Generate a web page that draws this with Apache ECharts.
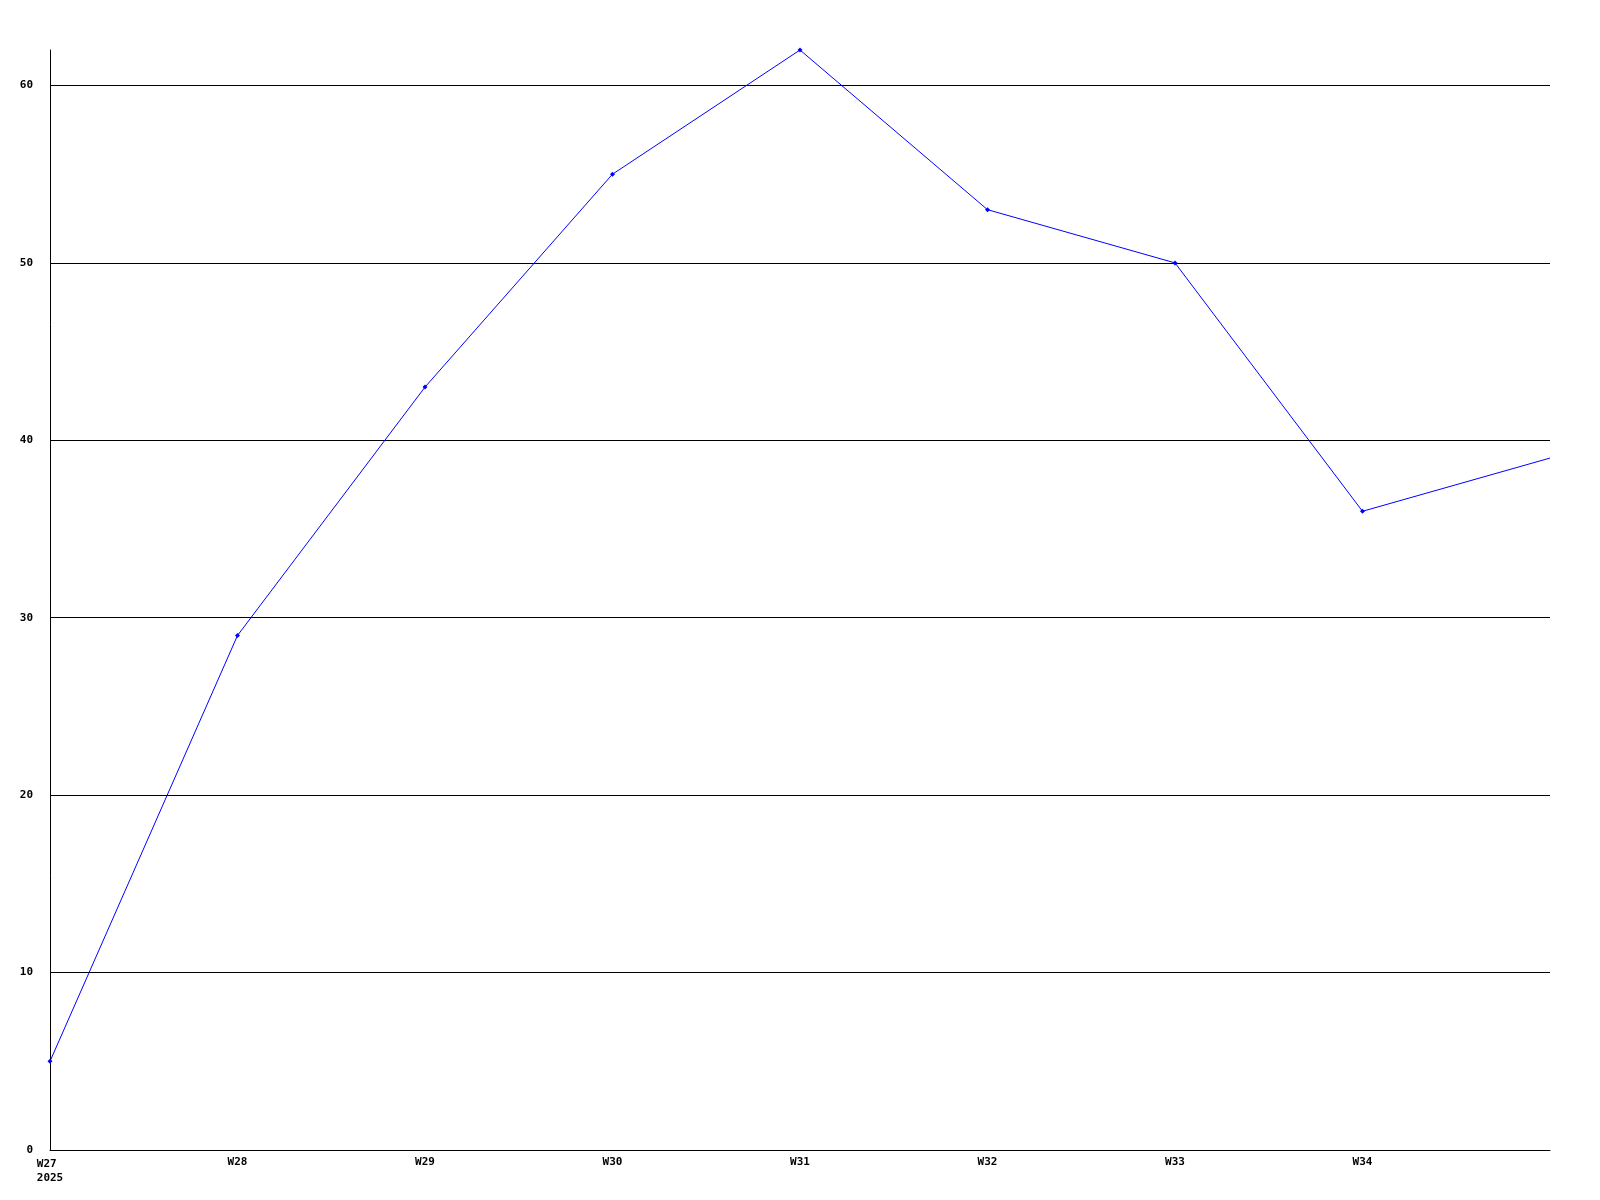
<!DOCTYPE html>
<html>
<head>
<meta charset="utf-8">
<script src="https://cdn.jsdelivr.net/npm/echarts@6/dist/echarts.min.js"></script>
<style>
html,body{margin:0;padding:0;background:#fff;}
#chart{width:1600px;height:1200px;}
</style>
</head>
<body>
<div id="chart"></div>
<script>
const categories = ['W27', 'W28', 'W29', 'W30', 'W31', 'W32', 'W33', 'W34', 'W35'];
const values = [5, 29, 43, 55, 62, 53, 50, 36, 39];
const yearLabel = '2025';
const yTicks = [0, 10, 20, 30, 40, 50, 60];

const font = '"DejaVu Sans Mono", monospace';
const seriesData = values.map(function (v, i) {
  return i === values.length - 1 ? { value: v, symbol: 'none' } : v;
});
const chart = echarts.init(document.getElementById('chart'));
chart.setOption({
  backgroundColor: '#ffffff',
  animation: false,
  grid: { left: 50, right: 50, top: 50, bottom: 50 },
  xAxis: {
    type: 'category',
    data: categories,
    boundaryGap: false,
    axisLine: { lineStyle: { color: '#000', width: 1 } },
    axisTick: { show: false },
    splitLine: { show: false },
    axisLabel: {
      color: '#000',
      fontFamily: font,
      fontWeight: 'bold',
      fontSize: 11,
      margin: 7,
      interval: 0,
      showMaxLabel: false,
      formatter: function (v, i) {
        if (i === categories.length - 1) return '';
        if (i === 0) return '{f|' + v + '}\n{f|' + yearLabel + '}';
        return v;
      },
      rich: {
        f: { align: 'left', color: '#000', fontFamily: font, fontWeight: 'bold', fontSize: 11, lineHeight: 14 }
      }
    }
  },
  yAxis: {
    type: 'value',
    min: 0,
    max: 62,
    interval: 10,
    axisLine: { show: true, lineStyle: { color: '#000', width: 1 } },
    axisTick: { show: false },
    splitLine: { show: true, showMaxLine: false, lineStyle: { color: '#000', width: 1 } },
    axisLabel: {
      color: '#000',
      fontFamily: font,
      fontWeight: 'bold',
      fontSize: 11,
      margin: 17,
      showMaxLabel: false,
      formatter: function (v) { return yTicks.indexOf(v) >= 0 ? String(v) : ''; }
    }
  },
  series: [{
    type: 'line',
    data: seriesData,
    symbol: 'diamond',
    symbolSize: 5,
    showAllSymbol: true,
    lineStyle: { color: '#0000ff', width: 1 },
    itemStyle: { color: '#0000ff' }
  }]
});
</script>
</body>
</html>
